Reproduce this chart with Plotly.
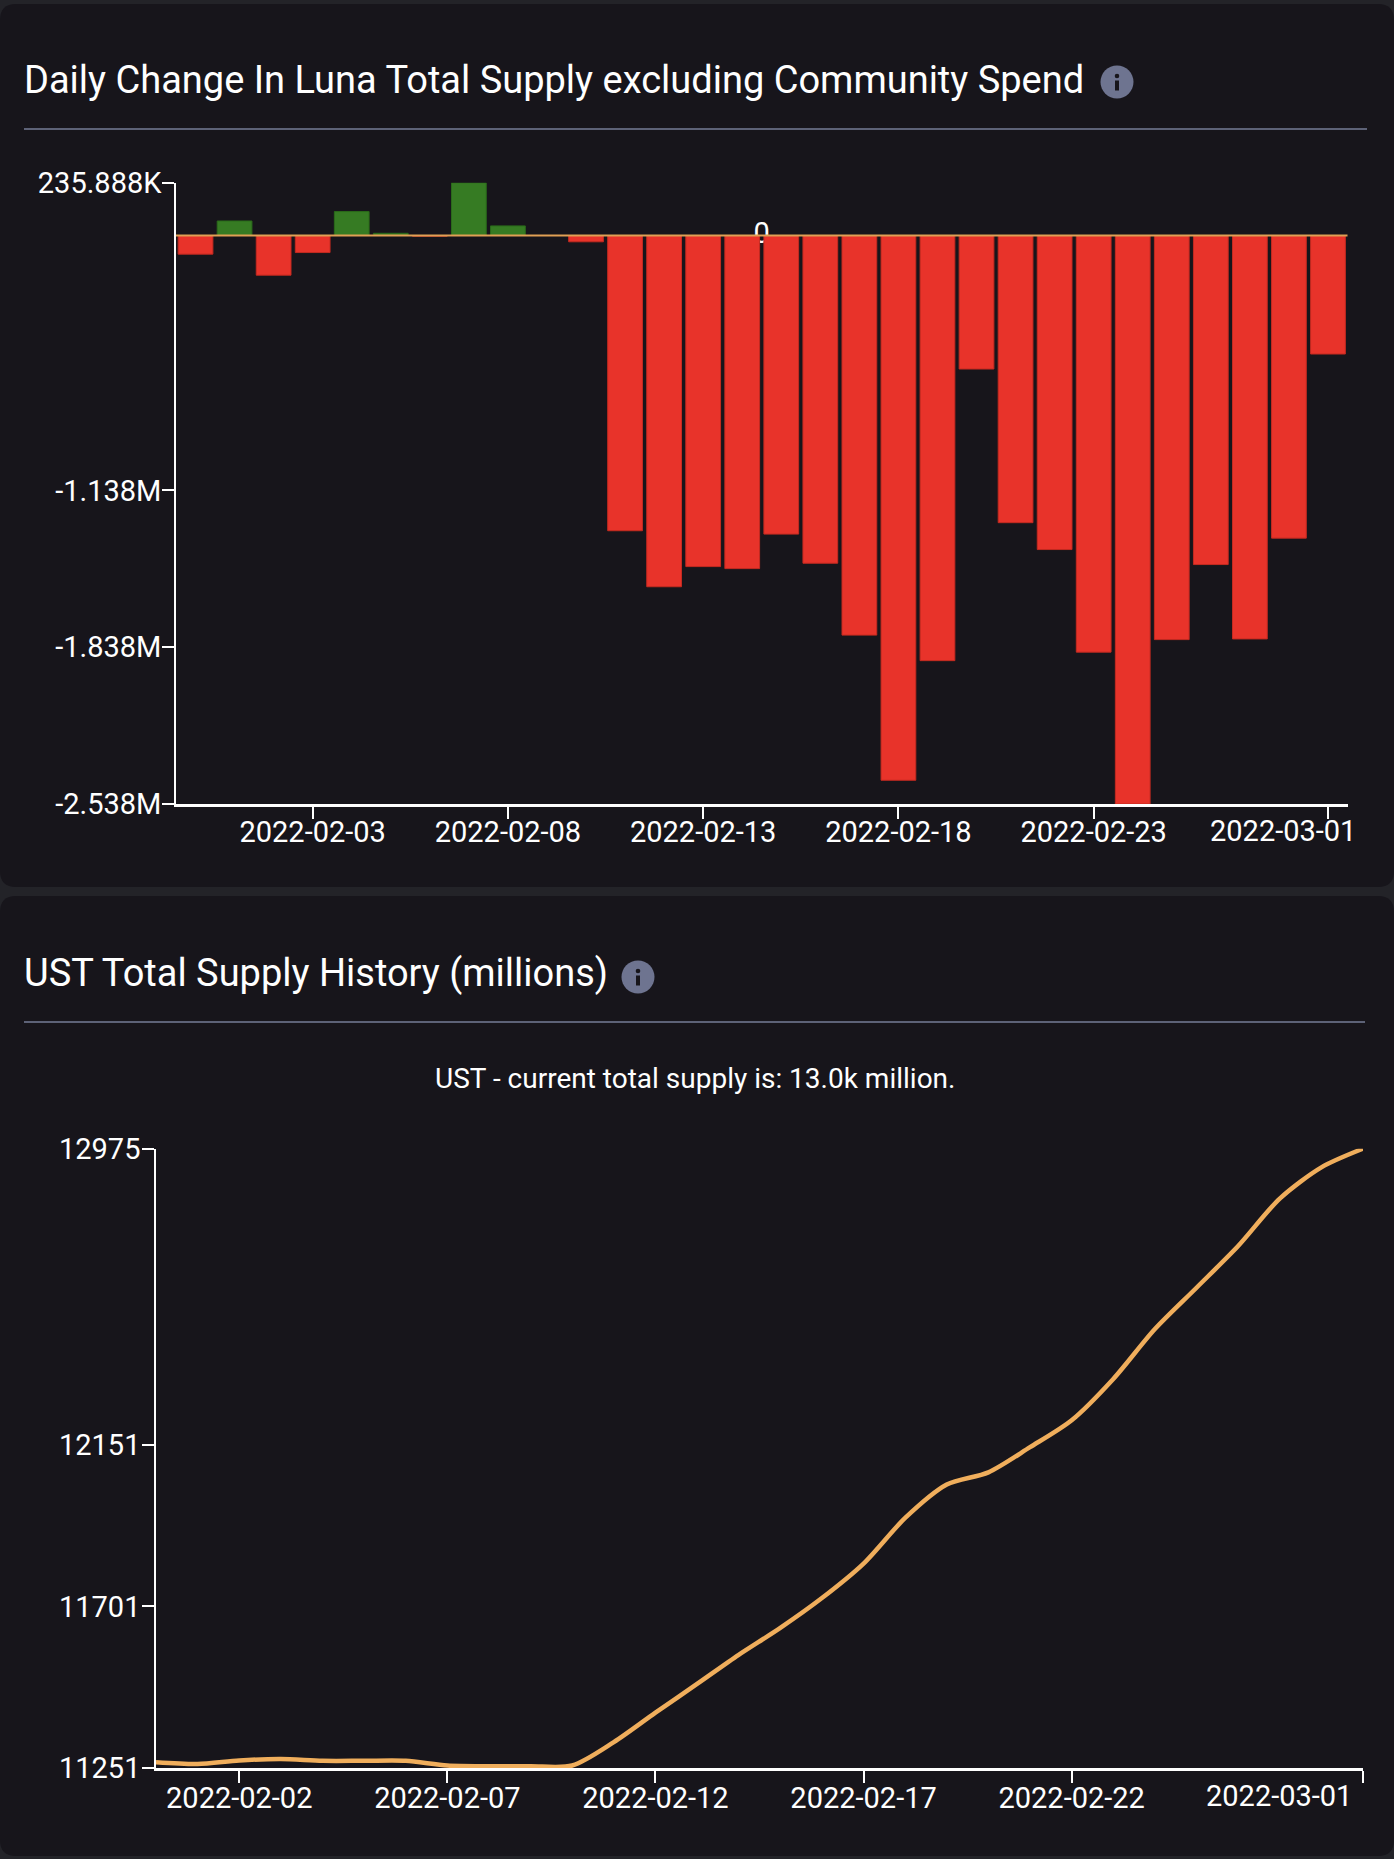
import plotly.graph_objects as go

W, H = 1394, 1859

# ---- data: daily change in Luna total supply (excluding community spend)
luna_dates = [
    "2022-01-31", "2022-02-01", "2022-02-02", "2022-02-03", "2022-02-04",
    "2022-02-05", "2022-02-06", "2022-02-07", "2022-02-08", "2022-02-09",
    "2022-02-10", "2022-02-11", "2022-02-12", "2022-02-13", "2022-02-14",
    "2022-02-15", "2022-02-16", "2022-02-17", "2022-02-18", "2022-02-19",
    "2022-02-20", "2022-02-21", "2022-02-22", "2022-02-23", "2022-02-24",
    "2022-02-25", "2022-02-26", "2022-02-27", "2022-02-28", "2022-03-01",
]
luna_change = [
    -83000, 65000, -177000, -76000, 107000, 10000, -3000, 235888, 43000, 0,
    -28000, -1318000, -1568000, -1478000, -1487000, -1333000, -1463000,
    -1784000, -2432000, -1898000, -596000, -1282000, -1402000, -1860000,
    -2538000, -1804000, -1469000, -1801000, -1351000, -529000,
]
luna_ytick_vals = [235888, -1138000, -1838000, -2538000]
luna_ytick_text = ["235.888K", "-1.138M", "-1.838M", "-2.538M"]
luna_xtick_vals = ["2022-02-03", "2022-02-08", "2022-02-13", "2022-02-18", "2022-02-23", "2022-03-01"]

# ---- data: UST total supply (millions)
ust_dates = luna_dates
ust_supply = [
    11267, 11262, 11272, 11276, 11271, 11271, 11271, 11258, 11256, 11256,
    11258, 11323, 11405, 11485, 11566, 11641, 11724, 11820, 11947, 12040,
    12074, 12144, 12219, 12334, 12473, 12588, 12704, 12836, 12923, 12975,
]
ust_ytick_vals = [12975, 12151, 11701, 11251]
ust_xtick_vals = ["2022-02-02", "2022-02-07", "2022-02-12", "2022-02-17", "2022-02-22", "2022-03-01"]

CARD = "#17151b"
OUTER = "#232328"
RED = "#e8332a"
GREEN = "#367b23"
ORANGE = "#f0ae5c"
ICON = "#6e7490"
FONT = "Roboto"
TICK_SIZE = 29
TITLE_SIZE = 38


def px_x(px):
    return px / W


def px_y(py):
    return 1 - py / H


def rounded_rect(x0, y0, x1, y1, r):
    p = lambda a, b: f"{px_x(a):.5f},{px_y(b):.5f}"
    return (f"M {p(x0 + r, y0)} L {p(x1 - r, y0)} Q {p(x1, y0)} {p(x1, y0 + r)} "
            f"L {p(x1, y1 - r)} Q {p(x1, y1)} {p(x1 - r, y1)} L {p(x0 + r, y1)} "
            f"Q {p(x0, y1)} {p(x0, y1 - r)} L {p(x0, y0 + r)} Q {p(x0, y0)} {p(x0 + r, y0)} Z")


def paper_rect(x0, y0, x1, y1, color, kind="rect"):
    return dict(type=kind, xref="paper", yref="paper",
                x0=px_x(x0), x1=px_x(x1), y0=px_y(y1), y1=px_y(y0),
                fillcolor=color, line=dict(width=0))


fig = go.Figure()

# "0" label sits behind the bars, so it lives on the base axis
luna_range = ["2022-01-30 12:00", "2022-03-01 12:00"]
fig.add_trace(go.Scatter(
    x=["2022-02-14 12:00"], y=[0], mode="text", text=["0"],
    textfont=dict(color="white", size=TICK_SIZE, family=FONT),
    xaxis="x", yaxis="y", showlegend=False, hoverinfo="skip",
))

bar_colors = [GREEN if v > 0 else RED for v in luna_change]
bar_lines = ["#2a6a1a" if v > 0 else "#c42a20" for v in luna_change]
fig.add_trace(go.Bar(
    x=luna_dates, y=luna_change,
    marker=dict(color=bar_colors, line=dict(color=bar_lines, width=1)),
    xaxis="x", yaxis="y2", showlegend=False,
))

fig.add_trace(go.Scatter(
    x=ust_dates, y=ust_supply, mode="lines",
    line=dict(color=ORANGE, width=4.5, shape="spline", smoothing=0.8),
    xaxis="x2", yaxis="y3", showlegend=False,
))

axis_style = dict(
    showline=True, linecolor="white", ticks="outside", ticklen=12, tickwidth=1.5,
    tickcolor="white", showgrid=False, zeroline=False, automargin=False,
    tickfont=dict(color="white", size=TICK_SIZE, family=FONT),
)

luna_yrange = [min(luna_change), max(luna_change)]
ust_yrange = [min(ust_ytick_vals), max(ust_ytick_vals)]

shapes = [
    dict(type="path", path=rounded_rect(0, 4, W, 887, 16), xref="paper", yref="paper",
         fillcolor=CARD, line=dict(width=0), layer="below"),
    dict(type="path", path=rounded_rect(0, 896, W, 1856, 16), xref="paper", yref="paper",
         fillcolor=CARD, line=dict(width=0), layer="below"),
    # dividers under titles
    dict(type="line", xref="paper", yref="paper", x0=px_x(24), x1=px_x(1367),
         y0=px_y(129), y1=px_y(129), line=dict(color="#5d6277", width=2)),
    dict(type="line", xref="paper", yref="paper", x0=px_x(24), x1=px_x(1365),
         y0=px_y(1022), y1=px_y(1022), line=dict(color="#5d6277", width=2)),
    # zero line over the bars
    dict(type="line", xref="x domain", yref="y", x0=0, x1=1, y0=0, y1=0,
         line=dict(color="#e0a055", width=2), layer="above"),
]

# info icons: grey disc with a dark "i"
for cx, cy in [(1117, 82), (638, 977)]:
    r = 16.5
    shapes.append(paper_rect(cx - r, cy - r, cx + r, cy + r, ICON, "circle"))
    shapes.append(paper_rect(cx - 2.3, cy - 8.3, cx + 2.3, cy - 3.7, CARD, "circle"))
    shapes.append(paper_rect(cx - 2, cy - 1.5, cx + 2, cy + 8.5, CARD))

annotations = [
    dict(x=px_x(22), y=px_y(80), xref="paper", yref="paper", xanchor="left", yanchor="middle",
         text="Daily Change In Luna Total Supply excluding Community Spend", showarrow=False,
         font=dict(color="white", size=TITLE_SIZE, family=FONT)),
    dict(x=px_x(22), y=px_y(973), xref="paper", yref="paper", xanchor="left", yanchor="middle",
         text="UST Total Supply History (millions)", showarrow=False,
         font=dict(color="white", size=TITLE_SIZE, family=FONT)),
    dict(x=px_x(695), y=px_y(1078), xref="paper", yref="paper", xanchor="center", yanchor="middle",
         text="UST - current total supply is: 13.0k million.", showarrow=False,
         font=dict(color="white", size=28, family=FONT)),
    # last date labels are pulled in from the card edge
    dict(x=px_x(1358), y=px_y(831), xref="paper", yref="paper", xanchor="right", yanchor="middle",
         text=luna_xtick_vals[-1], showarrow=False,
         font=dict(color="white", size=TICK_SIZE, family=FONT)),
    dict(x=px_x(1354), y=px_y(1796), xref="paper", yref="paper", xanchor="right", yanchor="middle",
         text=ust_xtick_vals[-1], showarrow=False,
         font=dict(color="white", size=TICK_SIZE, family=FONT)),
]

fig.update_layout(
    template="none",
    width=W, height=H, margin=dict(l=0, r=0, t=0, b=0, pad=0, autoexpand=False),
    paper_bgcolor=OUTER, plot_bgcolor="rgba(0,0,0,0)",
    font=dict(family=FONT, color="white"),
    bargap=0.11, showlegend=False,
    shapes=shapes, annotations=annotations,
    xaxis=dict(axis_style, type="date", range=luna_range, anchor="y",
               domain=[px_x(176), px_x(1347.5)], linewidth=2.5, ticklabelstandoff=-12,
               tickvals=luna_xtick_vals, ticktext=luna_xtick_vals[:-1] + [""]),
    yaxis=dict(axis_style, range=luna_yrange, anchor="x", linewidth=1.5,
               domain=[px_y(804), px_y(182.7)], ticklabelstandoff=-5,
               tickvals=luna_ytick_vals, ticktext=luna_ytick_text),
    yaxis2=dict(range=luna_yrange, overlaying="y", visible=False, anchor="x"),
    xaxis2=dict(axis_style, type="date", range=["2022-01-31", "2022-03-01"], anchor="y3",
                domain=[px_x(156), px_x(1363)], linewidth=2.5, ticklabelstandoff=-10,
                tickvals=ust_xtick_vals, ticktext=ust_xtick_vals[:-1] + [""]),
    yaxis3=dict(axis_style, range=ust_yrange, anchor="x2", linewidth=1.5,
                domain=[px_y(1768), px_y(1148.7)], ticklabelstandoff=-4,
                tickvals=ust_ytick_vals, ticktext=[str(v) for v in ust_ytick_vals]),
)

fig.write_html("out.html", config={"displayModeBar": False},
               post_script="document.body.style.margin='0';")
